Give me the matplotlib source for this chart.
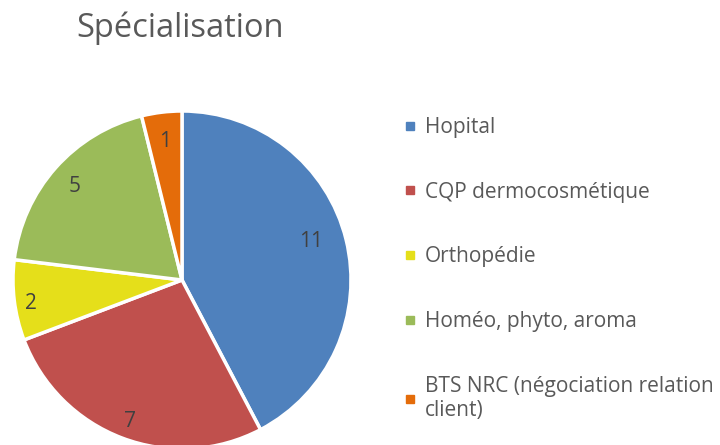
import matplotlib
matplotlib.use("Agg")
import matplotlib.pyplot as plt
import matplotlib.transforms as mtransforms
from matplotlib.lines import Line2D
import numpy as np

categories = ["Hopital", "CQP dermocosmétique", "Orthopédie", "Homéo, phyto, aroma",
              "BTS NRC (négociation relation\nclient)"]
values = [11, 7, 2, 5, 1]
colors = ["#4F81BD", "#C0504D", "#E5DF1A", "#9BBB59", "#E46C0A"]
title = "Spécialisation"

# label placement styling (radius fraction, angular nudge in degrees)
label_radius = [0.80, 0.88, 0.90, 0.85, 0.84]
label_nudge = [3.7, 0.5, 1.0, 0.0, 0.0]

plt.rcParams['font.family'] = ['Open Sans', 'DejaVu Sans']

W, H = 720, 445
fig = plt.figure(figsize=(W / 100, H / 100), dpi=100)
cx, cy, r = 182, 280, 169
ax = fig.add_axes([(cx - r) / W, (H - cy - r) / H, 2 * r / W, 2 * r / H])

wedges, texts = ax.pie(values, colors=colors, startangle=90, counterclock=False,
                       labels=[str(v) for v in values], labeldistance=0.8,
                       wedgeprops=dict(edgecolor='white', linewidth=2.5),
                       textprops=dict(fontsize=15, color='#404040'), radius=1)
shift = mtransforms.offset_copy(ax.transData, fig=fig, x=0, y=-1.5, units='points')
for w, t, lr, dn in zip(wedges, texts, label_radius, label_nudge):
    ang = np.deg2rad((w.theta1 + w.theta2) / 2 + dn)
    t.set_position((lr * np.cos(ang), lr * np.sin(ang)))
    t.set_transform(shift)
    t.set_horizontalalignment('center')
    t.set_verticalalignment('center')
ax.set_xlim(-1, 1)
ax.set_ylim(-1, 1)
ax.set_aspect('equal')
ax.axis('off')
for w in wedges:
    w.set_clip_on(False)

fig.text(180 / W, 1 - 28 / H, title, ha='center', va='center', fontsize=23.5, color='#595959')

handles = [Line2D([], [], marker='s', linestyle='none', markersize=5.5,
                  markerfacecolor=c, markeredgecolor=c) for c in colors]
leg = fig.legend(handles, categories, loc='upper left',
                 bbox_to_anchor=(404 / W, 1 - 117 / H), frameon=False,
                 fontsize=15, labelcolor='#595959', handlelength=0.6,
                 handletextpad=0.4, labelspacing=2.1, borderpad=0, borderaxespad=0)

fig.savefig("out.png", dpi=100)
